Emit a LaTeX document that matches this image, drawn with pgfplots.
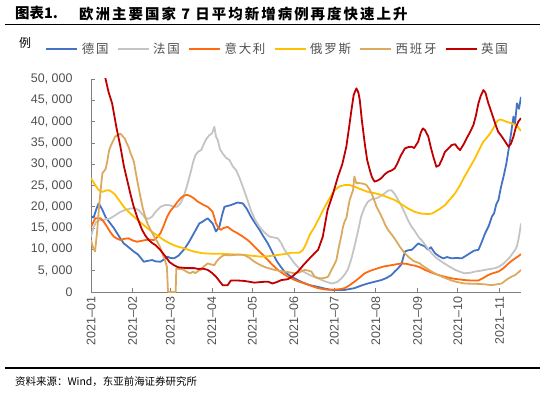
\documentclass[border=0pt]{standalone}
\usepackage{pgfplots}
\pgfplotsset{compat=1.18}
\usepackage{fontspec}
\setmainfont{Liberation Sans}
\newfontfamily\cjk{Noto Sans CJK SC}
\newfontfamily\cjksp[LetterSpace=14]{Noto Sans CJK SC}
\definecolor{deblue}{HTML}{4472C4}
\definecolor{frgray}{HTML}{C4C4C4}
\definecolor{itorange}{HTML}{FF6A10}
\definecolor{ruyellow}{HTML}{FFC000}
\definecolor{estan}{HTML}{DBAA5E}
\definecolor{ukred}{HTML}{C00000}
\definecolor{axgray}{HTML}{7F7F7F}
\definecolor{lblgray}{HTML}{505050}
\begin{document}
\begin{tikzpicture}[x=1bp,y=1bp]
\useasboundingbox (0,0) rectangle (550,394);
% title and rules
\node[anchor=west,inner sep=0pt] at (15,380.5) {\cjk\bfseries\fontsize{14.5}{16}\selectfont 图表1.};
\node[anchor=west,inner sep=0pt] at (79,380.5) {\cjksp\bfseries\fontsize{14.5}{16}\selectfont 欧洲主要国家 7 日平均新增病例再度快速上升};
\draw[line width=1.6bp] (5,369.5) -- (540,369.5);
\draw[line width=2bp] (5,25.7) -- (540,25.7);
\node[anchor=west,inner sep=0pt] at (15,12.5) {\cjk\fontsize{10.5}{12}\selectfont 资料来源：Wind，东亚前海证券研究所};
\node[inner sep=0pt] at (25,351) {\cjk\fontsize{12}{14}\selectfont 例};
\begin{axis}[
  at={(91bp,102bp)}, anchor=south west,
  width=430bp, height=213bp, scale only axis,
  xmin=0, xmax=320, ymin=0, ymax=50000,
  axis x line*=bottom, axis y line*=left,
  axis line style={draw=axgray, line width=0.9bp},
  tick style={draw=axgray, line width=0.8bp},
  tick align=inside, major tick length=4bp,
  xtick={0,31,59,90,120,151,181,212,243,273,304},
  xticklabels={2021--01,2021--02,2021--03,2021--04,2021--05,2021--06,2021--07,2021--08,2021--09,2021--10,2021--11},
  x tick label style={rotate=90, anchor=east, yshift=0bp, xshift=-1bp},
  ytick={0,5000,...,50000},
  scaled y ticks=false,
  /pgf/number format/1000 sep={,\ },
  /pgf/number format/assume math mode=true,
  y tick label style={xshift=-15bp},
  tick label style={font=\fontsize{12.5}{14}\selectfont, color=lblgray},
  every axis plot/.append style={line width=1.8bp, no markers, line join=round},
  legend columns=-1,
  legend image code/.code={\draw[#1, line width=2.2bp] (0bp,0bp) -- (31bp,0bp);},
  legend style={draw=none, fill=none, at={(-0.107,1.141)}, anchor=west, inner sep=0pt,
    font=\cjksp\fontsize{12.5}{14}\selectfont, text=lblgray,
    nodes={inner sep=0pt},
    /tikz/every odd column/.append style={column sep=3.5bp},
    /tikz/every even column/.append style={column sep=8bp}},
]
% Germany
\addplot[deblue] coordinates {
(0,17700)(2,17500)(4,19500)(5.7,20800)(8,19600)(11,17500)(14.4,16100)(17,15000)(19.4,13800)(22,12500)
(24.4,11400)(28,10500)(31.8,9500)(35,8800)(39.3,7100)(42,7300)(45.5,7500)(48,7200)(51.7,7100)(54,7600)
(56.7,8300)(59,8000)(61.7,7900)(65,8500)(69,9900)(72.5,11500)(76.6,13800)(80.6,16100)(83,16500)(86.8,17300)
(90.5,16100)(93,14200)(95.5,15300)(97.5,18000)(99.3,20000)(104,20400)(109,21000)(113,20800)(116,19500)(119,17700)
(122,16200)(125.4,14600)(128,13200)(131.6,11400)(135,9300)(137.8,7500)(141,6000)(144,4800)(148,3800)(151.5,3200)
(157,2300)(162.7,1600)(169,1200)(174,800)(179,500)(189,500)(196,900)(201,1500)(206,2000)(211,2400)
(216,2800)(220,3300)(223.6,4000)(226,4800)(228.6,5600)(231,6500)(233.6,9500)(236,9800)(238.6,9900)(241,10600)
(243.5,11400)(246,11000)(248,10800)(251,9900)(253,10500)(256,9100)(259,8400)(262,7900)(265,8200)(268.4,7900)
(272,8000)(275.9,7900)(279,8500)(282,9100)(285,9700)(288.3,9900)(290.5,11500)(293.3,13800)(296,15500)(298.3,17700)
(300,18500)(301.5,20500)(303.2,21600)(305,24500)(307,27100)(309,30000)(310.7,33300)(312.5,37000)(314.4,41200)(315.5,39500)
(317,44300)(318.5,43000)(320,45800)};
\addlegendentry{德国}
% France
\addplot[frgray] coordinates {
(0,13000)(2,15300)(4,16500)(7,16900)(10,17000)(14.4,17300)(18,18000)(21.9,18800)(25,19200)(29.3,19600)
(33,19600)(35.6,19200)(38,18300)(40.5,17300)(43,17200)(45.5,17700)(48,18800)(51.7,20000)(55,20400)(58,20400)
(61,20100)(64,20000)(66.5,20800)(69,22400)(71.5,25000)(74,27900)(76,30500)(77.8,32200)(80,33000)(82,33300)
(84,34800)(86,36000)(88,36800)(90,37200)(91.8,38800)(93,36500)(94.3,35700)(96,33500)(98,32500)(100.5,31500)
(103,31000)(105.5,29500)(108,28600)(110.5,26800)(113,24700)(116,22000)(119,19200)(122,17000)(125.4,15300)(129,14000)
(132.8,13000)(136,12800)(139,12600)(141.5,11500)(144,9900)(148,8200)(151.5,6700)(155,5500)(159,4600)(164,3800)
(169,3200)(174,2500)(179,2000)(183,2300)(186.4,3200)(189,4200)(191,5200)(193.5,7500)(196,10600)(198.5,14000)
(201,17700)(203.5,19800)(206,21200)(209,21800)(212.5,22000)(215.5,22500)(218.7,23200)(221,23800)(223.6,23900)(226,23000)
(228.6,21600)(231,20200)(233.6,18500)(236,16800)(238.6,15300)(241,14300)(244,12800)(246,12200)(250,10500)(253.5,9100)
(257,8000)(261,7100)(266,6100)(271,5200)(275,4700)(278,4400)(282,4500)(285.8,4800)(290,5000)(293.3,5200)
(297,5400)(300.7,5600)(304,6000)(307,6700)(310,7600)(312,8300)(314,9200)(315.7,9900)(317,10800)(318,12200)
(319,14000)(320,16100)};
\addlegendentry{法国}
% Italy
\addplot[itorange] coordinates {
(0,15300)(3.2,17300)(7,17300)(9.5,16500)(12,15300)(14.5,14000)(17,13000)(19.5,12500)(21.9,12200)(25,12500)
(28,12600)(31,12100)(34.3,11800)(37.5,12000)(40.5,12200)(43.5,12300)(46.8,12200)(49,12800)(51.7,13800)(54,15500)
(56.7,17700)(59,19000)(61.7,20000)(64,21000)(66.6,22000)(69,22600)(71.6,22800)(74,22500)(76.6,22000)(79,21300)
(81.8,20800)(84,20400)(86.8,20000)(88.5,19500)(90.5,18800)(91.8,17500)(93,16100)(95,15000)(96.8,14600)(98.5,15000)
(101.7,15300)(105,14500)(109,13800)(113,13000)(116.6,12200)(120,11200)(124,9900)(128,8700)(131.6,7500)(135,6400)
(139,5200)(142.5,4400)(146.5,3600)(151,2900)(155,2400)(159,2000)(162.7,1600)(166,1200)(169,900)(174,600)
(179,500)(184,600)(188.8,900)(192,1500)(196,2400)(200,3400)(203.7,4400)(208,5000)(213.7,5600)(218,6000)
(223.6,6300)(227,6500)(231,6700)(235,6600)(238.6,6300)(241,6200)(244.8,5800)(248.5,5200)(253,4600)(258.4,4000)
(263,3600)(268.4,3200)(273,3000)(278,2800)(283,2700)(288.3,2700)(292,3300)(295.7,4000)(299,4400)(303.2,4800)
(307,5600)(310.7,6700)(313,7300)(315.7,7900)(318,8400)(320,8900)};
\addlegendentry{意大利}
% Russia
\addplot[ruyellow] coordinates {
(0,26700)(3.2,25100)(5.5,24000)(8.2,23500)(11,23800)(13.2,23900)(15.5,23500)(18.1,22800)(21,21500)(24.4,20000)
(28,18800)(31.8,17700)(35.5,16700)(39.3,15700)(43,14700)(46.8,13800)(50.5,13000)(54.2,12200)(58,11500)(61.7,11000)
(65,10600)(69,10300)(72.5,9900)(76.6,9500)(82.8,9100)(89,9000)(95,9000)(101.7,8900)(108,8800)(114,8700)
(120,8500)(126.6,8300)(132,8400)(139,8700)(144,8900)(149,9200)(155,9200)(157.5,9800)(159,10600)(161,12000)
(162.7,13400)(166.4,15300)(170,17500)(174,20000)(177.5,22000)(181.3,23900)(185,24800)(188.8,25100)(192.5,25100)(196.3,24700)
(201,24100)(206,23500)(211,23200)(216,22800)(221,22200)(226,21600)(231,20600)(236,19600)(241,18800)(246,18400)
(251,18300)(253.5,18400)(256,18800)(260,19600)(263.4,20400)(267,21700)(271,23200)(274.5,25000)(278,27100)(282,29300)
(285.8,31400)(289,33500)(292,35300)(294.5,36200)(297,37200)(299.5,38500)(302,40000)(304,40500)(305.7,40400)(309,40000)
(313,39600)(316,39200)(318,38600)(320,37800)};
\addlegendentry{俄罗斯}
% Spain
\addplot[estan] coordinates {
(0,12200)(1.5,10500)(3,9500)(4.5,14000)(6,20000)(7.5,25000)(8.5,27900)(10,28500)(11,29000)(12,30500)
(13.5,33300)(15,34500)(16.5,35500)(18,36500)(20,36800)(21.7,37200)(23.5,36600)(25,36100)(26.5,35000)(28,34000)
(29.5,32500)(30.5,31800)(32,30500)(33,28600)(34.5,26000)(35.8,23900)(37,22000)(38.3,20000)(40,18000)(42,16100)
(44.5,14500)(47,13000)(49.3,11800)(51.5,10500)(53,9100)(55,7500)(56.5,5900)(57.3,0)(63,0)(63.5,5600)
(65,5400)(67,5400)(69,5200)(72,4600)(74,4400)(76,4800)(77.5,4400)(80,5000)(81.8,5200)(84,6000)
(86.8,6700)(89,6500)(91.8,6300)(93.5,7200)(95.5,7900)(97.5,8400)(99.3,8700)(103,8600)(106.7,8700)(110,8800)
(114,8700)(118,8000)(121.6,7100)(125,6500)(129,5900)(133,5500)(136.6,5200)(140,5000)(144,4800)(148,4600)
(151.5,4400)(155,4600)(159,5200)(162,5000)(164,4800)(166.4,3600)(169,3300)(171.4,3200)(174,3300)(176.4,3600)
(178,4600)(179,5200)(181,6400)(182.6,7500)(184,9800)(185,11400)(186.5,13500)(187.5,15300)(189,16800)(190,17300)
(191.5,20000)(192.5,21600)(194,23000)(195,23900)(196,27100)(197.5,25500)(199,25600)(201,25500)(203,25400)(205,25100)
(207,24200)(208.7,23200)(210.5,21800)(212.5,20000)(215,18500)(217.4,16900)(219,15700)(221,14600)(223,13800)(224.9,13000)
(227.5,11800)(229.9,10600)(233,9300)(236,8300)(240,7300)(244.8,6700)(246,6300)(250,5500)(253.5,4800)(257,4200)
(261,3600)(265,3100)(268.4,2700)(273,2300)(278,2000)(283,1950)(288.3,1900)(293,1800)(298.3,1600)(302,1800)
(305.7,2000)(308,2600)(310.7,3200)(313,3600)(315.7,4000)(318,4600)(320,5200)};
\addlegendentry{西班牙}
% UK
\addplot[ukred] coordinates {
(5,58000)(8,56000)(10.7,50200)(13,47000)(15.7,44300)(19,38500)(21.9,34100)(24.5,29500)(26.9,26300)(29.5,22800)
(31.8,20000)(35,17000)(38,14600)(40.5,13200)(43,12200)(45.5,11500)(48,11000)(51.5,9900)(55.5,8300)(58.5,7000)
(61.7,6300)(65,5800)(68,5700)(71.6,5600)(76.9,5600)(80,5400)(83,5500)(86.8,5200)(90,4500)(93,3600)
(95.5,2600)(98,1600)(101.7,1600)(104,2700)(109,2700)(114,2600)(118,2400)(121.6,2200)(125,2300)(129,2400)
(132,2400)(135,2000)(138,2300)(141.6,2800)(146.5,3000)(150,3700)(154,4800)(158,6300)(162.7,7900)(166,9000)
(169,9900)(172.5,13000)(176,19200)(180,23000)(183.8,27100)(187,30000)(190,34100)(192,38500)(193.8,42700)(195.5,46300)
(197.5,47800)(199,46800)(200,45100)(201.5,40500)(203.7,34900)(205.5,31000)(207.5,28600)(209,27000)(211,25900)(213.5,26200)
(216,26700)(218.5,27600)(221,28200)(223.5,28500)(226,29000)(228,30200)(230.5,32000)(233.6,33700)(236,34000)(238.6,34100)
(240.5,33800)(243.5,35300)(245.5,37500)(247,38400)(248.5,38000)(251,36500)(253,33800)(254.7,31800)(257,29400)(259,29700)
(261,31000)(263.4,32900)(266,33700)(268.4,34500)(271,34700)(273,33800)(274.6,33300)(277,34500)(279.6,36100)(282,37500)
(284.6,39200)(286.5,41500)(288.3,44300)(290,46000)(292,47400)(293.5,46800)(295.7,44300)(298,42200)(300.7,39600)(303,37600)
(305.7,36500)(308,35400)(310.7,34100)(312.5,34800)(314.4,36500)(316,38500)(318,40000)(320,40800)};
\addlegendentry{英国}
\end{axis}
\end{tikzpicture}
\end{document}
